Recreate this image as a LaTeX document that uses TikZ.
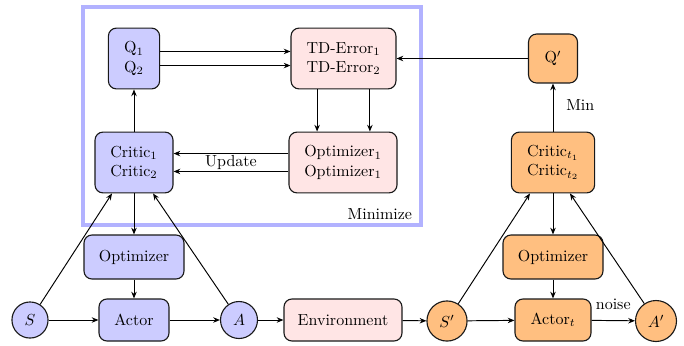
\documentclass[tikz,border=0pt]{standalone}
\usetikzlibrary{arrows.meta}
\begin{document}
\begin{tikzpicture}[x=0.625pt,y=-0.625pt,
  box/.style={draw=black!90, line width=0.7pt, rounded corners=5pt, align=center, inner sep=2pt},
  bluebox/.style={box, fill=blue!20},
  pinkbox/.style={box, fill=red!10},
  orangebox/.style={box, fill=orange!50},
  statenode/.style={circle, draw=black!90, line width=0.7pt, inner sep=4.6pt},
  arr/.style={-{Stealth[length=4.2pt,width=3.4pt]}, line width=0.6pt},
  lbl/.style={inner sep=1pt}
]
\useasboundingbox (0,0) rectangle (684,345);

% minimisation frame
\draw[blue!30, line width=2pt] (83,7) rectangle (421,225);
\node[anchor=base east, lbl] (minlbl) at (414,219) {Minimize};

% learning side
\node[bluebox, minimum width=32pt, minimum height=38pt] (Q) at (134,58.5) {Q$_1$\\Q$_2$};
\node[pinkbox, minimum width=65.6pt, minimum height=38pt] (TD) at (343.5,58.5) {TD-Error$_1$\\TD-Error$_2$};
\node[bluebox, minimum width=48.75pt, minimum height=38pt] (Critic) at (134,162.5) {Critic$_1$\\Critic$_2$};
\node[pinkbox, minimum width=67.5pt, minimum height=38pt] (Opt1) at (343,162.5) {Optimizer$_1$\\Optimizer$_1$};
\node[bluebox, minimum width=62.5pt, minimum height=27.5pt] (Opt) at (134,257) {Optimizer};
\node[bluebox, minimum width=43.75pt, minimum height=26.25pt] (Actor) at (134,320) {Actor};
\node[statenode, fill=blue!20] (S) at (30,320) {$S$};
\node[statenode, fill=blue!20] (A) at (239,320) {$A$};
\node[pinkbox, minimum width=73.75pt, minimum height=26.25pt] (Env) at (343,320) {Environment};

% target side
\node[statenode, fill=orange!50] (S2) at (447,321) {$S'$};
\node[orangebox, minimum width=47.5pt, minimum height=26.25pt] (ActorT) at (553,320) {Actor$_t$};
\node[statenode, fill=orange!50] (A2) at (656,321) {$A'$};
\node[orangebox, minimum width=62.5pt, minimum height=27.5pt] (OptT) at (553,257) {Optimizer};
\node[orangebox, minimum width=52pt, minimum height=38pt] (CriticT) at (553,162.5) {Critic$_{t_1}$\\Critic$_{t_2}$};
\node[orangebox, minimum width=30.6pt, minimum height=30.6pt] (Qt) at (553,58.5) {Q$'$};

% connectors inside the frame
\draw[arr] ([yshift=4.4pt]Q.east) -- ([yshift=4.4pt]TD.west);
\draw[arr] ([yshift=-4.4pt]Q.east) -- ([yshift=-4.4pt]TD.west);
\draw[arr] ([xshift=-16.5pt]TD.south) -- ([xshift=-16.5pt]TD.south |- Opt1.north);
\draw[arr] ([xshift=16.5pt]TD.south) -- ([xshift=16.5pt]TD.south |- Opt1.north);
\draw[arr] ([yshift=5.6pt]Opt1.west) -- ([yshift=5.6pt]Critic.east);
\draw[arr] ([yshift=-5.6pt]Opt1.west) -- node[lbl, above, pos=0.5] (upd) {Update} ([yshift=-5.6pt]Critic.east);
\draw[arr] (Critic) -- (Q);

% actor update
\draw[arr] (Critic) -- (Opt);
\draw[arr] (Opt) -- (Actor);
\draw[arr] (S) -- ([xshift=-13.75pt]Critic.south);
\draw[arr] (A) -- ([xshift=11.9pt]Critic.south);
\draw[arr] (S) -- (Actor);
\draw[arr] (Actor) -- (A);
\draw[arr] (A) -- (Env);
\draw[arr] (Env) -- (S2);

% target networks
\draw[arr] (S2) -- (ActorT);
\draw[arr] (ActorT) -- node[lbl, above=5.5pt] (noise) {noise} (A2);
\draw[arr] (OptT) -- (ActorT);
\draw[arr] (CriticT) -- (OptT);
\draw[arr] (S2) -- ([xshift=-14.4pt]CriticT.south);
\draw[arr] (A2) -- ([xshift=10.6pt]CriticT.south);
\draw[arr] (CriticT) -- node[lbl, right=7pt, pos=0.55] (minl) {Min} (Qt);
\draw[arr] (Qt) -- (TD);
\end{tikzpicture}
\end{document}
